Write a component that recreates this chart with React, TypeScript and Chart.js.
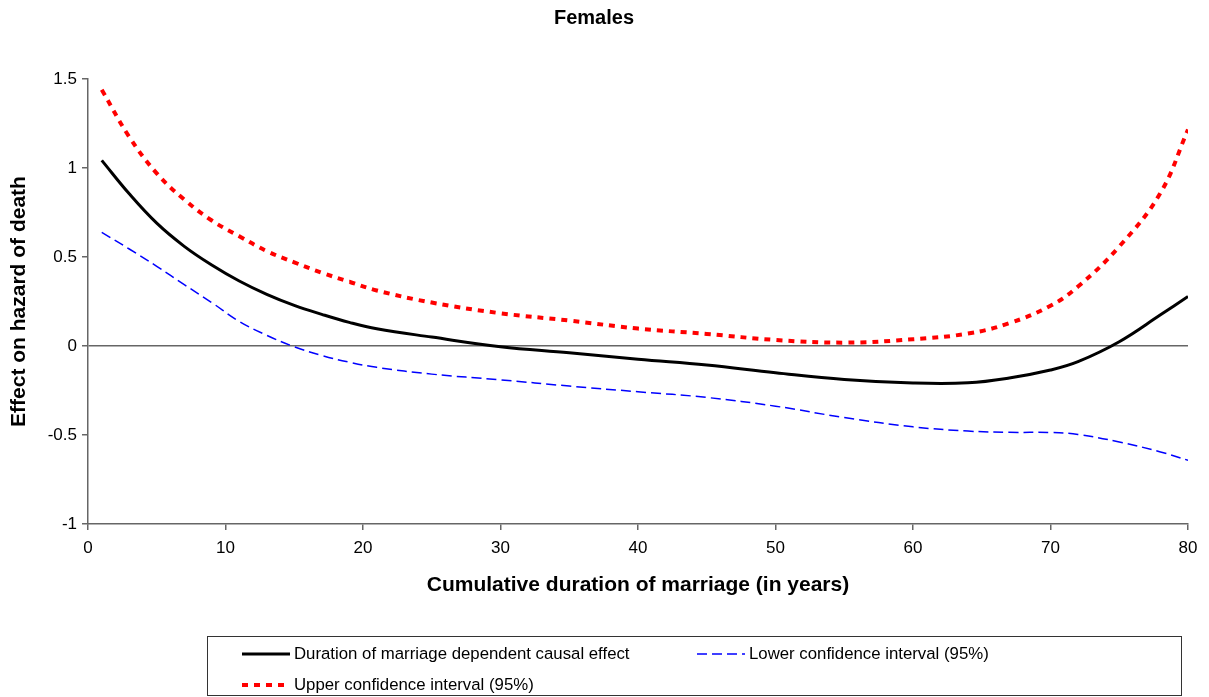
import React, { useEffect, useRef } from "react";
import { Chart, registerables } from "chart.js";

Chart.register(...registerables);

// Cumulative duration of marriage (years)
const years = [1, 3, 5, 7, 9, 11, 13, 15, 17, 19, 21, 25, 30, 35, 40, 45, 50, 55, 60, 64, 67, 70, 72, 75, 78, 80];

// Duration of marriage dependent causal effect
const effect = [1.043, 0.855, 0.69, 0.56, 0.455, 0.365, 0.29, 0.228, 0.178, 0.133, 0.097, 0.05, -0.004, -0.038, -0.075, -0.107, -0.15, -0.188, -0.208, -0.207, -0.18, -0.135, -0.088, 0.024, 0.175, 0.278];

// Lower confidence interval (95%)
const lower = [0.638, 0.545, 0.448, 0.345, 0.244, 0.138, 0.06, -0.004, -0.053, -0.091, -0.12, -0.158, -0.19, -0.225, -0.257, -0.289, -0.338, -0.402, -0.454, -0.478, -0.485, -0.486, -0.497, -0.539, -0.595, -0.642];

// Upper confidence interval (95%)
const upper = [1.44, 1.175, 0.97, 0.823, 0.705, 0.617, 0.533, 0.47, 0.412, 0.361, 0.312, 0.244, 0.184, 0.143, 0.098, 0.068, 0.034, 0.019, 0.038, 0.07, 0.128, 0.226, 0.334, 0.559, 0.86, 1.216];

const seriesLabels = [
  "Duration of marriage dependent causal effect",
  "Lower confidence interval (95%)",
  "Upper confidence interval (95%)",
];

const FONT = "'Liberation Sans', Arial, Helvetica, sans-serif";
const AXIS_GRAY = "#666666";

const toPoints = (ys: number[]) => years.map((x, i) => ({ x, y: ys[i] }));

// Boxed legend below the plot, two columns
const boxLegend = {
  id: "boxLegend",
  afterDraw(chart: any) {
    const ctx = chart.ctx;
    const box = { left: 207.5, top: 636.5, width: 974, height: 59 };
    ctx.save();
    ctx.strokeStyle = "#333333";
    ctx.lineWidth = 1;
    ctx.strokeRect(box.left, box.top, box.width, box.height);

    const slots = [
      { x: 242, y: 654 },
      { x: 697, y: 654 },
      { x: 242, y: 685 },
    ];
    chart.data.datasets.forEach((ds: any, i: number) => {
      const s = slots[i];
      ctx.beginPath();
      ctx.strokeStyle = ds.borderColor;
      ctx.lineWidth = ds.borderWidth;
      ctx.setLineDash(ds.borderDash || []);
      ctx.moveTo(s.x, s.y);
      ctx.lineTo(s.x + 48, s.y);
      ctx.stroke();
      ctx.setLineDash([]);
      ctx.fillStyle = "#000";
      ctx.font = `16.8px ${FONT}`;
      ctx.textBaseline = "middle";
      ctx.textAlign = "left";
      ctx.fillText(ds.label, s.x + 52, s.y);
    });
    ctx.restore();
  },
};

export default function App() {
  const canvasRef = useRef<HTMLCanvasElement | null>(null);

  useEffect(() => {
    if (!canvasRef.current) return;
    const chart = new Chart(canvasRef.current, {
      type: "line",
      data: {
        datasets: [
          {
            label: seriesLabels[0],
            data: toPoints(effect),
            borderColor: "#000000",
            borderWidth: 3,
            pointRadius: 0,
            tension: 0.4,
          },
          {
            label: seriesLabels[1],
            data: toPoints(lower),
            borderColor: "#0000FF",
            borderWidth: 1.5,
            borderDash: [10, 5],
            pointRadius: 0,
            tension: 0.4,
          },
          {
            label: seriesLabels[2],
            data: toPoints(upper),
            borderColor: "#FF0000",
            borderWidth: 4,
            borderDash: [6, 6],
            pointRadius: 0,
            tension: 0.4,
          },
        ],
      },
      options: {
        responsive: false,
        animation: false,
        layout: { padding: { left: 0, right: 21, top: 0, bottom: 76 } },
        plugins: {
          legend: { display: false },
          tooltip: { enabled: false },
          title: {
            display: true,
            text: "Females",
            color: "#000",
            font: { family: FONT, size: 20, weight: "bold" },
            padding: { top: 6, bottom: 49 },
          },
        },
        scales: {
          x: {
            type: "linear",
            min: 0,
            max: 80,
            afterFit: (scale: any) => {
              scale.height = 97;
            },
            ticks: {
              stepSize: 10,
              color: "#000",
              font: { family: FONT, size: 17 },
              padding: 8,
              maxRotation: 0,
            },
            grid: {
              drawOnChartArea: false,
              drawTicks: true,
              tickLength: 6,
              tickColor: AXIS_GRAY,
              lineWidth: 1.5,
            },
            border: { display: true, color: AXIS_GRAY, width: 1.5 },
            title: {
              display: true,
              text: "Cumulative duration of marriage (in years)",
              color: "#000",
              font: { family: FONT, size: 21, weight: "bold" },
              padding: { top: 0, bottom: 23 },
            },
          },
          y: {
            min: -1,
            max: 1.5,
            afterFit: (scale: any) => {
              scale.width = 88;
            },
            ticks: {
              stepSize: 0.5,
              color: "#000",
              font: { family: FONT, size: 17 },
              padding: 5,
              callback: (v: any) => String(Math.round(Number(v) * 10) / 10),
            },
            grid: {
              drawOnChartArea: true,
              drawTicks: true,
              tickLength: 6,
              tickColor: AXIS_GRAY,
              lineWidth: 1.5,
              color: (ctx: any) =>
                ctx.tick && ctx.tick.value === 0 ? AXIS_GRAY : "rgba(0,0,0,0)",
            },
            border: { display: true, color: AXIS_GRAY, width: 1.5 },
            title: {
              display: true,
              text: "Effect on hazard of death",
              color: "#000",
              font: { family: FONT, size: 21, weight: "bold" },
              padding: { top: 7, bottom: 0 },
            },
          },
        },
      },
      plugins: [boxLegend],
    });
    return () => chart.destroy();
  }, []);

  return (
    <div style={{ position: "fixed", left: 0, top: 0, width: 1209, height: 697, background: "#fff" }}>
      <canvas ref={canvasRef} width={1209} height={697} />
    </div>
  );
}
